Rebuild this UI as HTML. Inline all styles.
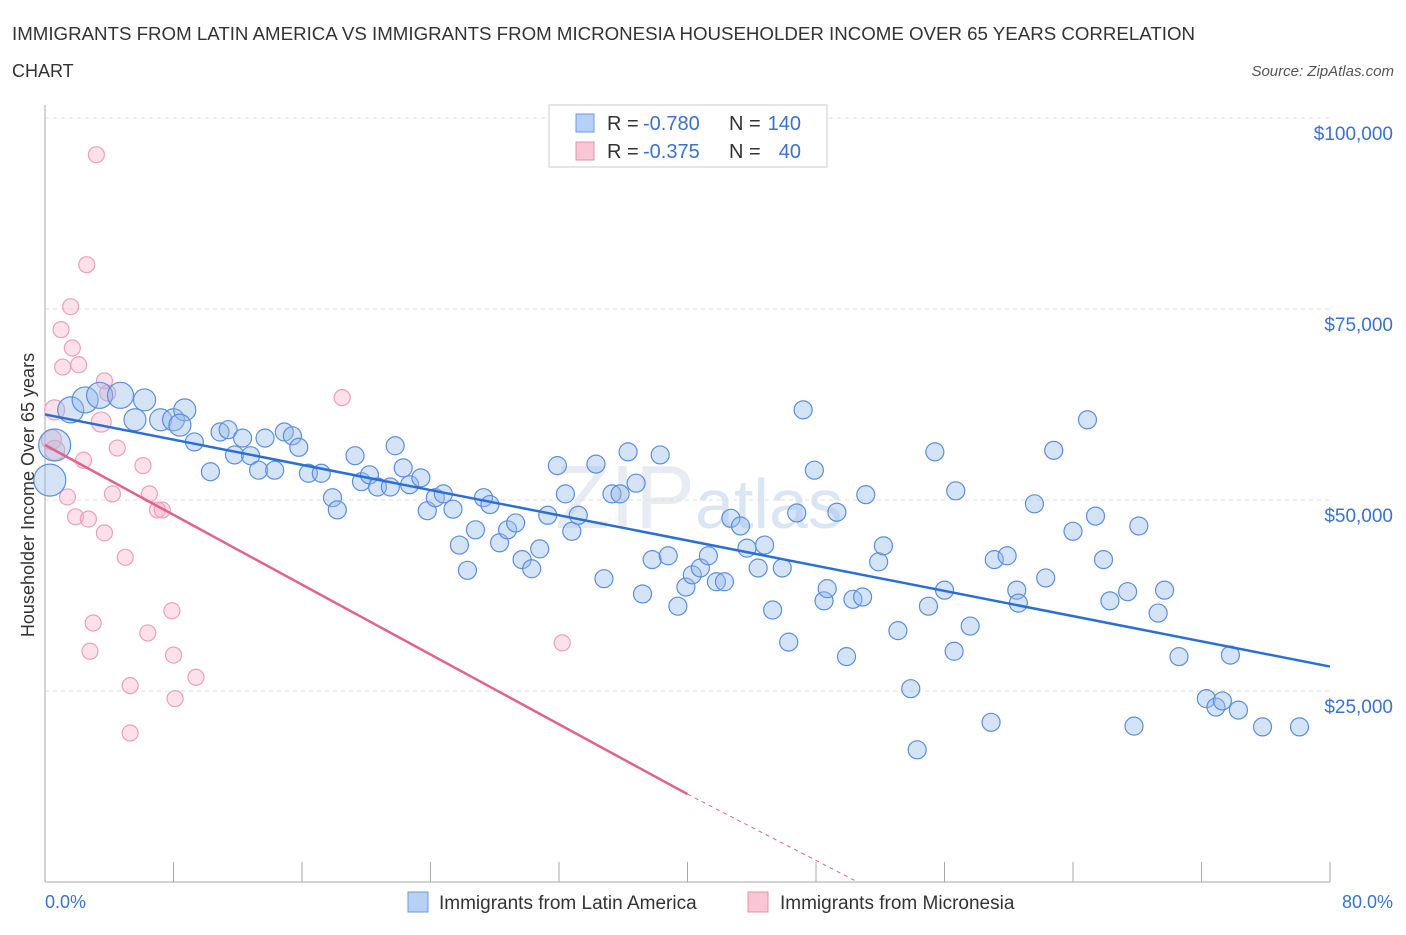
<!DOCTYPE html>
<html><head><meta charset="utf-8"><style>
body{margin:0;background:#fff;font-family:"Liberation Sans",sans-serif;}
svg text{font-family:"Liberation Sans",sans-serif;}
</style></head><body>
<svg width="1406" height="930" viewBox="0 0 1406 930" id="chart">
<text x="12" y="40" font-size="18" fill="#333" textLength="1183" lengthAdjust="spacingAndGlyphs">IMMIGRANTS FROM LATIN AMERICA VS IMMIGRANTS FROM MICRONESIA HOUSEHOLDER INCOME OVER 65 YEARS CORRELATION</text>
<text x="12" y="77" font-size="18" fill="#333">CHART</text>
<text x="1394" y="76" font-size="15" fill="#555" font-style="italic" text-anchor="end">Source: ZipAtlas.com</text>
<text x="555" y="528" font-size="90" fill="#e8ecf2" font-family="Liberation Serif">ZIP<tspan font-size="70" fill="#dbe6f5" font-family="Liberation Sans">atlas</tspan></text>
<g id="grid"></g>
<g id="axes"></g>
<g id="marks"></g>
<text transform="translate(34,495) rotate(-90)" font-size="18" fill="#333" text-anchor="middle">Householder Income Over 65 years</text>
<text x="45" y="908" font-size="18" fill="#3a72d0">0.0%</text>
<text x="1393" y="908" font-size="18" fill="#3a72d0" text-anchor="end">80.0%</text>
<g>
<rect x="549" y="105" width="278" height="62" fill="#fff" stroke="#ccc"/>
<rect x="576" y="114" width="18" height="18" fill="#b8d0f4" stroke="#6a9ae0"/>
<rect x="576" y="142" width="18" height="18" fill="#f9c6d5" stroke="#e690ac"/>
<text x="607" y="130" font-size="20" fill="#333">R =</text>
<text x="643" y="130" font-size="20" fill="#3a72d0">-0.780</text>
<text x="729" y="130" font-size="20" fill="#333">N =</text>
<text x="801" y="130" font-size="20" fill="#3a72d0" text-anchor="end">140</text>
<text x="607" y="158" font-size="20" fill="#333">R =</text>
<text x="643" y="158" font-size="20" fill="#3a72d0">-0.375</text>
<text x="729" y="158" font-size="20" fill="#333">N =</text>
<text x="801" y="158" font-size="20" fill="#3a72d0" text-anchor="end">40</text>
</g>
<g>
<rect x="408" y="892" width="20" height="20" fill="#b8d0f4" stroke="#6a9ae0"/>
<text x="439" y="909" font-size="19" fill="#333">Immigrants from Latin America</text>
<rect x="748" y="892" width="20" height="20" fill="#f9c6d5" stroke="#e690ac"/>
<text x="780" y="909" font-size="19" fill="#333">Immigrants from Micronesia</text>
</g>
</svg>
<script>
const yTicks=[25000,50000,75000,100000];
const yTickLabels=["$25,000","$50,000","$75,000","$100,000"];
const blueX=[0.3,0.6,1.6,2.5,3.4,4.7,6.2,5.6,7.2,8.0,8.7,8.4,9.3,10.3,10.9,11.4,11.8,12.3,12.8,13.3,13.7,14.3,14.9,15.4,15.8,16.4,17.2,17.9,18.2,19.3,19.7,20.2,20.7,21.5,21.8,22.3,22.7,23.4,23.8,24.3,24.8,25.4,25.8,26.3,26.8,27.3,27.7,28.3,28.8,29.3,29.7,30.3,30.8,31.3,31.9,32.4,32.8,33.2,34.3,34.8,35.3,35.8,36.3,36.8,37.2,37.8,38.3,38.8,39.4,39.9,40.3,40.8,41.3,41.8,42.3,42.7,43.3,43.7,44.4,44.8,45.3,45.9,46.3,46.8,47.2,47.9,48.5,48.7,49.3,49.9,50.3,50.9,51.1,51.9,52.2,53.1,53.9,54.3,55.0,55.4,56.0,56.6,56.7,57.6,58.9,59.1,59.9,60.5,60.6,62.3,62.8,61.6,64.0,64.9,65.4,65.9,66.3,67.4,67.8,68.1,69.3,69.7,70.6,72.3,72.9,73.3,73.8,74.3,75.8,78.1];
const blueY=[52.6,57.2,61.8,63.1,63.7,63.7,63.1,60.5,60.5,60.5,61.8,59.8,57.6,53.7,58.9,59.2,55.9,58.1,55.8,53.9,58.1,53.9,58.9,58.4,56.9,53.5,53.5,50.3,48.7,55.8,52.4,53.3,51.7,51.7,57.1,54.2,52.0,52.9,48.6,50.3,50.8,48.8,44.1,40.8,46.1,50.3,49.4,44.4,46.1,47.0,42.2,41.0,43.6,48.0,54.5,50.8,45.9,48.0,54.7,39.7,50.8,50.8,56.3,52.2,37.7,42.2,55.9,42.7,36.1,38.6,40.2,41.1,42.7,39.3,39.3,47.6,46.6,43.7,41.1,44.1,35.6,41.1,31.4,48.3,61.8,53.9,36.8,38.4,48.4,29.5,37.0,37.3,50.7,41.9,44.0,32.9,25.3,17.3,36.1,56.3,38.2,30.2,51.2,33.5,20.9,42.2,42.7,38.2,36.5,39.8,56.5,49.5,45.9,60.5,47.9,42.2,36.8,38.0,20.4,46.6,35.2,38.2,29.5,24.0,22.9,23.7,29.7,22.5,20.3,20.3];
const pinkX=[3.2,2.6,1.6,1.0,1.7,1.1,2.1,3.7,3.9,18.5,0.6,3.5,0.4,0.6,4.5,2.4,6.1,1.4,4.2,6.5,7.0,7.3,1.9,2.7,3.7,5.0,7.9,3.0,6.4,32.2,2.8,8.0,9.4,5.3,8.1,5.3];
const pinkY=[95.2,80.8,75.3,72.3,69.9,67.4,67.7,65.6,64.0,63.4,61.8,60.2,57.9,56.5,56.8,55.2,54.5,50.4,50.8,50.8,48.7,48.7,47.8,47.5,45.7,42.5,35.5,33.9,32.6,31.3,30.2,29.7,26.8,25.7,24.0,19.5];
const blueTrend=[[0,61.2],[80,28.2]];
const pinkTrend=[[0,57.2],[40,11.5],[50.6,0]];
const NS="http://www.w3.org/2000/svg";
const xs=p=>45+p*(1285/80);
const ys=v=>882-v*(764/100);
function mk(t,a,parent){const e=document.createElementNS(NS,t);for(const k in a)e.setAttribute(k,a[k]);document.getElementById(parent).appendChild(e);return e;}
yTicks.forEach((t,i)=>{
 const g=mk('line',{x1:45,x2:1330,y1:ys(t/1000),y2:ys(t/1000),stroke:'#ddd','stroke-dasharray':'4,4'},'grid');
 
 
 const l=mk('text',{x:1393,y:ys(t/1000)+22,'font-size':19,fill:'#3a72d0','text-anchor':'end'},'grid');
 l.textContent=yTickLabels[i];
 
 
});
const ya=mk('line',{x1:45,x2:45,y1:105,y2:882,stroke:'#aaa'},'axes');


const xa=mk('line',{x1:45,x2:1330,y1:882,y2:882,stroke:'#aaa'},'axes');


for(let i=0;i<=10;i++){const t=mk('line',{x1:xs(i*8),x2:xs(i*8),y1:862,y2:882,stroke:'#aaa'},'axes');
 
 }
pinkX.forEach((x,i)=>{const c=mk('circle',{cx:xs(x),cy:ys(pinkY[i]),r:i>=10&&i<=13?10:8,fill:'rgba(246,170,195,0.35)',stroke:'#eea0b8','stroke-width':1.2},'marks');
 
 });
blueX.forEach((x,i)=>{const c=mk('circle',{cx:xs(x),cy:ys(blueY[i]),r:i<2?16:(i<6?13:(i<12?11:9)),fill:'rgba(150,185,235,0.4)',stroke:'#5a8fdc','stroke-width':1.2},'marks');
 
 });
const bl=mk('line',{x1:xs(blueTrend[0][0]),y1:ys(blueTrend[0][1]),x2:xs(blueTrend[1][0]),y2:ys(blueTrend[1][1]),stroke:'#2a6fd6','stroke-width':2.5},'marks');


const pl=mk('line',{x1:xs(pinkTrend[0][0]),y1:ys(pinkTrend[0][1]),x2:xs(pinkTrend[1][0]),y2:ys(pinkTrend[1][1]),stroke:'#e0628e','stroke-width':2.5},'marks');


const pd=mk('line',{x1:xs(pinkTrend[1][0]),y1:ys(pinkTrend[1][1]),x2:xs(pinkTrend[2][0]),y2:ys(pinkTrend[2][1]),stroke:'#e0628e','stroke-width':1,'stroke-dasharray':'4,4'},'marks');


</script>
</body></html>
